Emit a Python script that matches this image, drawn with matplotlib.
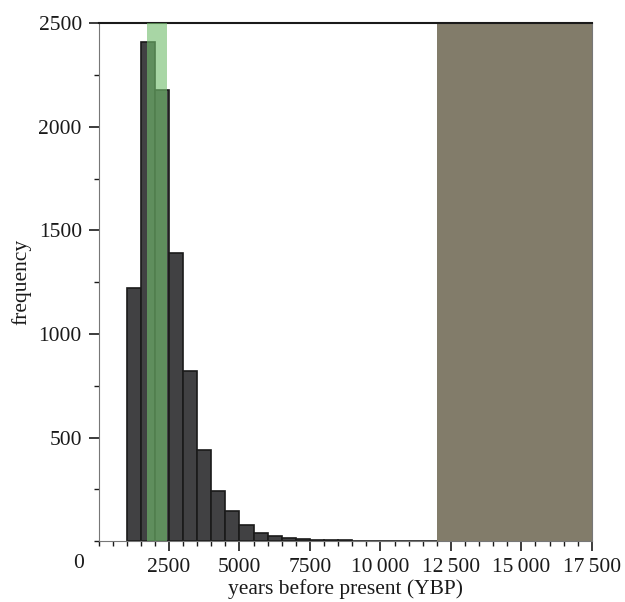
import matplotlib.pyplot as plt
from matplotlib.ticker import MultipleLocator

plt.rcParams['font.family'] = ['Liberation Serif', 'DejaVu Serif']

# histogram bins (left edges, years) and counts
bin_left = [1000, 1500, 2000, 2500, 3000, 3500, 4000, 4500, 5000, 5500, 6000,
            6500, 7000, 7500, 8000, 8500, 9000, 9500, 10000, 10500, 11000, 11500]
counts = [1220, 2410, 2180, 1390, 820, 439, 243, 146, 76, 40, 22,
          13, 8, 5, 4, 3, 2, 1, 1, 1, 0, 1]
bin_width = 500

# highlighted ranges
green_range = (1730, 2440)
brown_range = (12000, 17500)

xtick_vals = [2500, 5000, 7500, 10000, 12500, 15000, 17500]
xtick_labels = ['2500', '5000', '7500', '10\u2009000', '12\u2009500', '15\u2009000', '17\u2009500']
ytick_vals = [500, 1000, 1500, 2000, 2500]

fs = 15.5

fig = plt.figure(figsize=(6.25, 6.02), dpi=100)
ax = fig.add_axes([0.1576, 0.1013, 0.7894, 0.8597])

ax.axvspan(*brown_range, color='#827c6a', zorder=1, lw=0)
ax.bar(bin_left, counts, width=bin_width, align='edge', color='#414143',
       edgecolor='#1a1a1a', linewidth=1.2, zorder=2)
ax.axvspan(*green_range, color='#73be6e', alpha=0.62, zorder=3, lw=0)

ax.set_xlim(0, 17500)
ax.set_ylim(0, 2500)

ax.set_xticks(xtick_vals)
ax.set_xticklabels(xtick_labels)
ax.set_yticks(ytick_vals)
ax.xaxis.set_minor_locator(MultipleLocator(500))
ax.yaxis.set_minor_locator(MultipleLocator(250))
ax.tick_params(which='major', direction='out', length=7, width=1.2, labelsize=fs,
               color='#1a1a1a', labelcolor='#1a1a1a', pad=5)
ax.tick_params(which='minor', direction='out', length=3.5, width=1.0, color='#1a1a1a')
ax.tick_params(axis='x', which='both', top=False)
ax.tick_params(axis='y', which='both', right=False)

ax.spines['left'].set_color('#777777')
ax.spines['bottom'].set_color('#777777')
ax.spines['top'].set_color('#1a1a1a')
ax.spines['top'].set_linewidth(1.5)
ax.spines['right'].set_color('#777777')

# shared origin label
ax.text(-0.04, -0.043, '0', transform=ax.transAxes, ha='center', va='center',
        fontsize=fs, color='#1a1a1a')

ax.set_xlabel('years before present (YBP)', fontsize=fs, color='#1a1a1a', labelpad=2)
ax.set_ylabel('frequency', fontsize=fs, color='#1a1a1a', labelpad=5)

fig.savefig('out.png', dpi=100)
